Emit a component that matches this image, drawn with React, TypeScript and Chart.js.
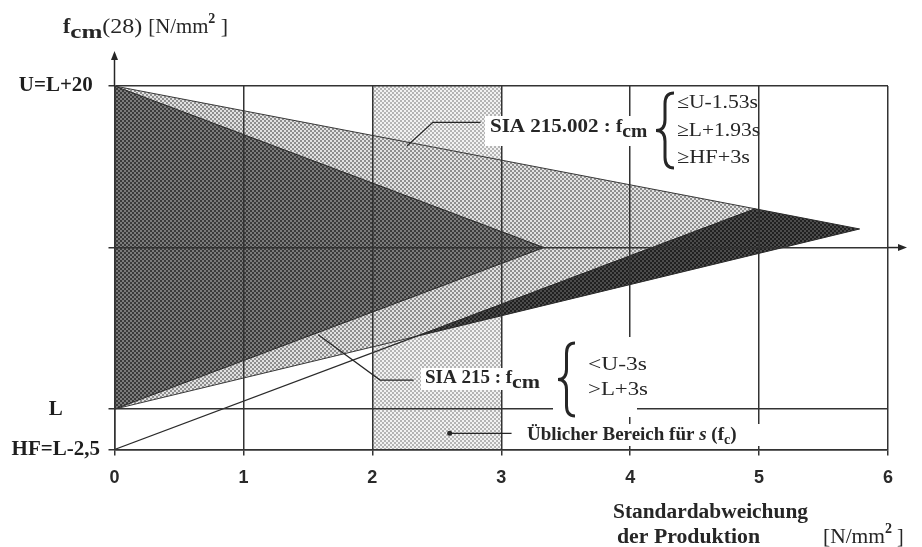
import React, { useEffect, useRef } from 'react';
import { Chart, registerables } from 'chart.js';

Chart.register(...registerables);

// ---- data (L = 0, so U = L+20 = 20, HF = L-2.5 = -2.5) ----
const xTickValues = [0, 1, 2, 3, 4, 5, 6];
const xTickLabels = ['0', '1', '2', '3', '4', '5', '6'];
const yTickValues = [-2.5, 0, 10, 20];
const yTickLabels = ['HF=L-2,5', 'L', '', 'U=L+20'];

// usual range of s (f_c): band from s=2 to s=3
const usualRangeX = [2, 3, 3, 2, 2];
const usualRangeY = [-2.5, -2.5, 20, 20, -2.5];
// SIA 215.002 admissible region (<= U-1.53s, >= L+1.93s, >= HF+3s)
const sia002X = [0, 4.97, 2.34, 0, 0];
const sia002Y = [20, 12.4, 4.5, 0, 20];
// SIA 215 admissible region (< U-3s, > L+3s)
const sia215X = [0, 3.33, 0, 0];
const sia215Y = [20, 10, 0, 20];
// wedge between L+1.93s and HF+3s
const wedgeX = [2.34, 4.97, 5.78, 2.34];
const wedgeY = [4.5, 12.4, 11.15, 4.5];
// HF + 3s line
const hfLineX = [0, 2.34];
const hfLineY = [-2.5, 4.5];

const SERIF = "'Liberation Serif', 'Times New Roman', serif";
const SANS = "'Liberation Sans', Arial, sans-serif";
const INK = '#262626';

function pts(xs: number[], ys: number[]) {
  return xs.map((x, i) => ({ x, y: ys[i] }));
}

function makePattern(c1: string, c2: string) {
  const cv = document.createElement('canvas');
  cv.width = 4;
  cv.height = 4;
  const c = cv.getContext('2d')!;
  c.fillStyle = c2;
  c.fillRect(0, 0, 4, 4);
  c.fillStyle = c1;
  c.fillRect(0, 0, 2, 2);
  c.fillRect(2, 2, 2, 2);
  const p = c.createPattern(cv, 'repeat');
  return p as CanvasPattern;
}

type Part = { t: string; font: string; dy?: number; w?: number };
function rich(ctx: CanvasRenderingContext2D, x: number, y: number, parts: Part[]) {
  let cx = x;
  for (const p of parts) {
    ctx.font = p.font;
    const m = ctx.measureText(p.t).width;
    if (p.w) {
      ctx.save();
      ctx.translate(cx, y + (p.dy || 0));
      ctx.scale(p.w / m, 1);
      ctx.fillText(p.t, 0, 0);
      ctx.restore();
      cx += p.w;
    } else {
      ctx.fillText(p.t, cx, y + (p.dy || 0));
      cx += m;
    }
  }
  return cx;
}

function fitText(ctx: CanvasRenderingContext2D, text: string, x: number, y: number, w: number) {
  const m = ctx.measureText(text).width;
  ctx.save();
  ctx.translate(x, y);
  ctx.scale(w / m, 1);
  ctx.fillText(text, 0, 0);
  ctx.restore();
}

function brace(ctx: CanvasRenderingContext2D, x: number, top: number, bottom: number, w: number) {
  const mid = (top + bottom) / 2;
  const xm = x + w * 0.5;
  ctx.beginPath();
  ctx.moveTo(x + w, top);
  ctx.quadraticCurveTo(xm, top, xm, top + w * 0.6);
  ctx.lineTo(xm, mid - w * 0.6);
  ctx.quadraticCurveTo(xm, mid, x, mid);
  ctx.quadraticCurveTo(xm, mid, xm, mid + w * 0.6);
  ctx.lineTo(xm, bottom - w * 0.6);
  ctx.quadraticCurveTo(xm, bottom, x + w, bottom);
  ctx.stroke();
}

const annotationPlugin = {
  id: 'annotations',
  afterDraw(chart: any) {
    const { ctx, scales } = chart;
    const X = (v: number) => scales.x.getPixelForValue(v);
    const Y = (v: number) => scales.y.getPixelForValue(v);
    ctx.save();
    ctx.strokeStyle = INK;
    ctx.fillStyle = INK;
    ctx.lineWidth = 1.5;

    // y axis arrow
    const x0 = X(0);
    ctx.beginPath();
    ctx.moveTo(x0, Y(20));
    ctx.lineTo(x0, 58);
    ctx.stroke();
    ctx.beginPath();
    ctx.moveTo(x0, 51);
    ctx.lineTo(x0 - 3.5, 60);
    ctx.lineTo(x0 + 3.5, 60);
    ctx.closePath();
    ctx.fill();

    // x arrow on middle line
    const ym = Y(10);
    ctx.beginPath();
    ctx.moveTo(X(6), ym);
    ctx.lineTo(900, ym);
    ctx.stroke();
    ctx.beginPath();
    ctx.moveTo(907, ym);
    ctx.lineTo(898, ym - 3.5);
    ctx.lineTo(898, ym + 3.5);
    ctx.closePath();
    ctx.fill();

    // leader lines
    ctx.lineWidth = 1.2;
    const poly = (p: number[][]) => {
      ctx.beginPath();
      ctx.moveTo(p[0][0], p[0][1]);
      for (let i = 1; i < p.length; i++) ctx.lineTo(p[i][0], p[i][1]);
      ctx.stroke();
    };
    poly([[X(2.27), Y(16.3)], [X(2.47), Y(17.75)], [X(2.84), Y(17.75)]]);
    poly([[X(1.58), Y(4.6)], [X(2.06), Y(1.8)], [X(2.32), Y(1.8)]]);
    // Üblicher leader
    const ly = Y(-1.5);
    poly([[X(2.6), ly], [X(3.08), ly]]);
    ctx.beginPath();
    ctx.arc(X(2.6), ly, 2.5, 0, Math.PI * 2);
    ctx.fill();

    // white label backgrounds
    ctx.fillStyle = '#ffffff';
    ctx.fillRect(485, 116, 170, 30);
    ctx.fillRect(421, 368, 125, 22);
    ctx.fillRect(553, 337, 100, 58);
    ctx.fillRect(553, 395, 84, 22);
    ctx.fillRect(519, 424, 246, 22);

    ctx.fillStyle = INK;
    ctx.strokeStyle = INK;
    ctx.textBaseline = 'alphabetic';
    ctx.textAlign = 'left';

    // y-axis title
    rich(ctx, 63, 33, [
      { t: 'f', font: `bold 22px ${SERIF}` },
      { t: 'cm', font: `bold 19px ${SERIF}`, dy: 5, w: 32 },
      { t: '(28) ', font: `22px ${SERIF}`, w: 46 },
      { t: '[N/mm', font: `22px ${SERIF}`, w: 60 },
      { t: '2', font: `bold 14px ${SERIF}`, dy: -10 },
      { t: ' ]', font: `22px ${SERIF}` },
    ]);

    // x-axis title
    ctx.font = `bold 20px ${SERIF}`;
    fitText(ctx, 'Standardabweichung', 613, 518, 195);
    fitText(ctx, 'der Produktion', 617, 543, 143);
    rich(ctx, 823, 543, [
      { t: '[N/mm', font: `20px ${SERIF}`, w: 62 },
      { t: '2', font: `bold 14px ${SERIF}`, dy: -10 },
      { t: ' ]', font: `20px ${SERIF}` },
    ]);

    // SIA 215.002 label
    rich(ctx, 490, 132, [
      { t: 'SIA 215.002 : ', font: `bold 19px ${SERIF}`, w: 126 },
      { t: 'f', font: `bold 19px ${SERIF}` },
      { t: 'cm', font: `bold 19px ${SERIF}`, dy: 5, w: 25 },
    ]);
    ctx.lineWidth = 3;
    brace(ctx, 656, 93, 168, 18);
    ctx.font = `19px ${SERIF}`;
    fitText(ctx, '≤U-1.53s', 677, 108, 81);
    fitText(ctx, '≥L+1.93s', 677, 136, 83);
    fitText(ctx, '≥HF+3s', 677, 163, 73);

    // SIA 215 label
    rich(ctx, 425, 383, [
      { t: 'SIA 215 : ', font: `bold 19px ${SERIF}` },
      { t: 'f', font: `bold 19px ${SERIF}` },
      { t: 'cm', font: `bold 19px ${SERIF}`, dy: 5, w: 28 },
    ]);
    ctx.lineWidth = 3;
    brace(ctx, 558, 343, 416, 17);
    ctx.font = `19px ${SERIF}`;
    fitText(ctx, '<U-3s', 588, 370, 59);
    fitText(ctx, '>L+3s', 588, 395, 60);

    // usual range label
    rich(ctx, 527, 440, [
      { t: 'Üblicher Bereich für ', font: `bold 19px ${SERIF}` },
      { t: 's', font: `italic bold 19px ${SERIF}` },
      { t: ' (f', font: `bold 19px ${SERIF}` },
      { t: 'c', font: `bold 14px ${SERIF}`, dy: 4 },
      { t: ')', font: `bold 19px ${SERIF}` },
    ]);

    ctx.restore();
  },
};

export default function App() {
  const ref = useRef<HTMLCanvasElement>(null);

  useEffect(() => {
    if (!ref.current) return;
    const bandFill = makePattern('#b4b4b4', '#f2f2f2');
    const lightFill = makePattern('#8e8e8e', '#e2e2e2');
    const darkFill = makePattern('#3a3a3a', '#7c7c7c');
    const wedgeFill = makePattern('#202020', '#4c4c4c');

    const gridOpts = {
      color: '#333333',
      lineWidth: 1.5,
      tickLength: 6,
      drawTicks: true,
      z: 1,
    };

    const chart = new Chart(ref.current, {
      type: 'scatter',
      data: {
        datasets: [
          {
            label: 'Üblicher Bereich',
            data: pts(usualRangeX, usualRangeY),
            showLine: true,
            fill: 'shape',
            backgroundColor: bandFill,
            borderColor: 'rgba(0,0,0,0)',
            borderWidth: 0,
            pointRadius: 0,
            order: 5,
          },
          {
            label: 'SIA 215.002',
            data: pts(sia002X, sia002Y),
            showLine: true,
            fill: 'shape',
            backgroundColor: lightFill,
            borderColor: '#3a3a3a',
            borderWidth: 1,
            pointRadius: 0,
            order: 4,
          },
          {
            label: 'SIA 215',
            data: pts(sia215X, sia215Y),
            showLine: true,
            fill: 'shape',
            backgroundColor: darkFill,
            borderColor: '#2a2a2a',
            borderWidth: 1,
            pointRadius: 0,
            order: 3,
          },
          {
            label: 'HF+3s',
            data: pts(wedgeX, wedgeY),
            showLine: true,
            fill: 'shape',
            backgroundColor: wedgeFill,
            borderColor: '#2a2a2a',
            borderWidth: 1,
            pointRadius: 0,
            order: 2,
          },
          {
            label: 'HF line',
            data: pts(hfLineX, hfLineY),
            showLine: true,
            fill: false,
            borderColor: '#2a2a2a',
            borderWidth: 1.2,
            pointRadius: 0,
            order: 1,
          },
        ],
      },
      options: {
        responsive: false,
        animation: false,
        devicePixelRatio: 1,
        layout: { padding: { top: 86, right: 34, left: 0, bottom: 0 } },
        plugins: {
          legend: { display: false },
          tooltip: { enabled: false },
        },
        scales: {
          x: {
            type: 'linear',
            min: 0,
            max: 6,
            afterBuildTicks: (s: any) => {
              s.ticks = xTickValues.map((v) => ({ value: v }));
            },
            afterFit: (s: any) => {
              s.height = 97.5;
            },
            ticks: {
              callback: (v: any) => xTickLabels[xTickValues.indexOf(Number(v))],
              autoSkip: false,
              maxRotation: 0,
              padding: 12,
              color: '#2a2a2a',
              font: { family: SANS, size: 18, weight: 'bold' },
            },
            grid: gridOpts,
            border: { display: true, color: '#333333', width: 1.5, z: 1 },
          },
          y: {
            type: 'linear',
            min: -2.5,
            max: 20,
            afterBuildTicks: (s: any) => {
              s.ticks = yTickValues.map((v) => ({ value: v }));
            },
            afterFit: (s: any) => {
              s.width = 114.5;
            },
            ticks: {
              callback: (v: any) => yTickLabels[yTickValues.indexOf(Number(v))],
              autoSkip: false,
              crossAlign: 'center',
              padding: 8.5,
              color: '#1e1e1e',
              font: { family: SERIF, size: 21, weight: 'bold' },
            },
            grid: gridOpts,
            border: { display: true, color: '#333333', width: 1.5, z: 1 },
          },
        },
      } as any,
      plugins: [annotationPlugin],
    } as any);

    return () => chart.destroy();
  }, []);

  return (
    <div style={{ position: 'absolute', left: 0, top: 0, width: 922, height: 547, background: '#ffffff' }}>
      <canvas ref={ref} width={922} height={547} style={{ display: 'block', width: 922, height: 547 }} />
    </div>
  );
}
